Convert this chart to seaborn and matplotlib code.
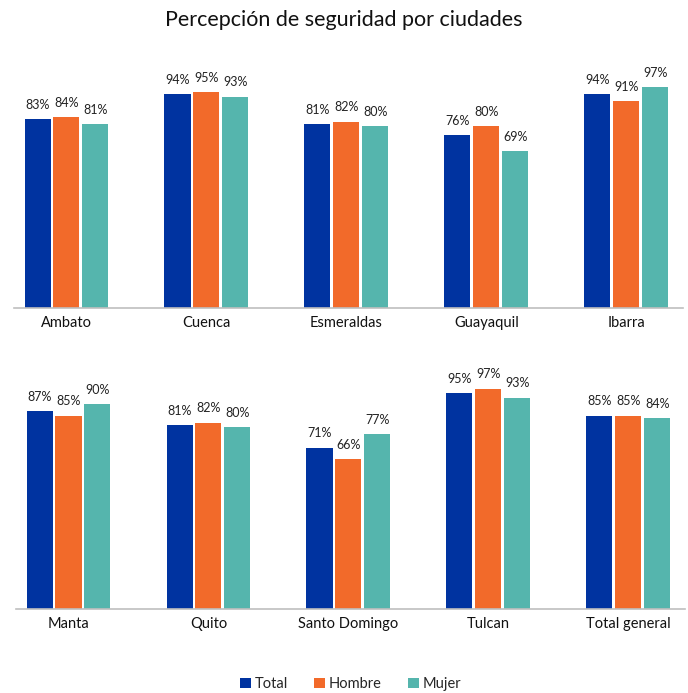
import matplotlib
matplotlib.use('Agg')
import matplotlib.pyplot as plt
import pandas as pd
import seaborn as sns

ciudades_1 = ['Ambato', 'Cuenca', 'Esmeraldas', 'Guayaquil', 'Ibarra']
ciudades_2 = ['Manta', 'Quito', 'Santo Domingo', 'Tulcan', 'Total general']
total = [83, 94, 81, 76, 94, 87, 81, 71, 95, 85]
hombre = [84, 95, 82, 80, 91, 85, 82, 66, 97, 85]
mujer = [81, 93, 80, 69, 97, 90, 80, 77, 93, 84]
grupos = ['Total', 'Hombre', 'Mujer']
colores = ['#0033A0', '#F26A2A', '#55B5AD']

sns.set_theme(style='white')
plt.rcParams['font.family'] = ['Lato', 'DejaVu Sans']

ciudades = ciudades_1 + ciudades_2
rows = []
for i, c in enumerate(ciudades):
    for g, vals in zip(grupos, [total, hombre, mujer]):
        rows.append({'ciudad': c, 'grupo': g, 'valor': vals[i] / 100})
df = pd.DataFrame(rows)

fig = plt.figure(figsize=(6.88, 6.93), dpi=100)
ax1 = fig.add_axes([0.0203, 0.5556, 0.9724, 0.3608])
ax2 = fig.add_axes([0.0233, 0.1212, 0.9724, 0.3608])

for ax, lista in [(ax1, ciudades_1), (ax2, ciudades_2)]:
    sub = df[df['ciudad'].isin(lista)]
    sns.barplot(data=sub, x='ciudad', y='valor', hue='grupo', order=lista,
                hue_order=grupos, palette=colores, width=0.62, gap=0.1,
                saturation=1, linewidth=0, ax=ax, legend=(ax is ax1))
    for cont in ax.containers:
        ax.bar_label(cont, labels=[f'{v * 100:.0f}%' for v in cont.datavalues],
                     padding=6, fontsize=9, color='#222222')
    ax.set_xlim(-0.375, 4.405)
    ax.set_ylim(0, 1.1)
    ax.set_xlabel('')
    ax.set_ylabel('')
    ax.set_yticks([])
    for s in ['top', 'right', 'left']:
        ax.spines[s].set_visible(False)
    ax.spines['bottom'].set_color('#BFBFBF')
    ax.spines['bottom'].set_linewidth(1.2)
    ax.tick_params(axis='x', length=0, labelsize=10.5, pad=6, colors='#111111')

handles, labels = ax1.get_legend_handles_labels()
for h in handles:
    h.set_linewidth(0)
ax1.get_legend().remove()
fig.legend(handles, labels, loc='lower center', bbox_to_anchor=(0.51, -0.016),
           ncol=3, frameon=False, fontsize=10.5, handlelength=0.75,
           handleheight=0.75, handletextpad=0.25, columnspacing=1.8)

fig.suptitle('Percepción de seguridad por ciudades', y=0.985, fontsize=15.5,
             color='#111111')

fig.savefig('out.png', dpi=100)
